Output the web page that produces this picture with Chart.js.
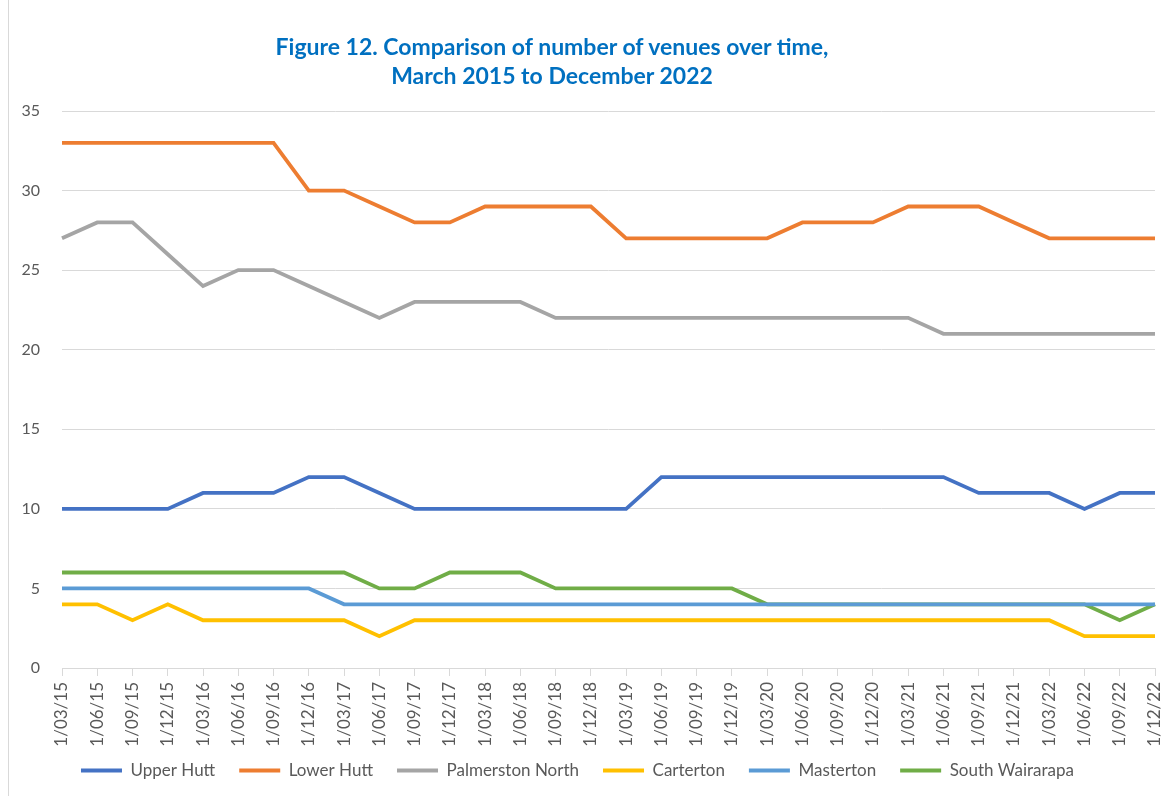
<!DOCTYPE html>
<html>
<head>
<meta charset="utf-8">
<script src="https://cdn.jsdelivr.net/npm/chart.js@4.4.0/dist/chart.umd.min.js"></script>
<style>
  html, body { margin: 0; padding: 0; background: #fff; }
  #wrap { position: relative; width: 1170px; height: 796px; }
  #frame { position: absolute; left: 8px; top: 0; width: 1px; height: 796px; background: #d9d9d9; }
  #title {
    position: absolute; left: 202px; width: 700px; top: 32px;
    text-align: center; color: #0070C0;
    font: bold 23px Lato, "Open Sans", sans-serif; line-height: 29px;
  }
</style>
</head>
<body>
<div id="wrap">
  <div id="frame"></div>
  <div id="title">Figure 12. Comparison of number of venues over time,<br>March 2015 to December 2022</div>
  <canvas id="chart" width="1170" height="796"></canvas>
</div>
<script>
// Quarterly dates, 1 March 2015 to 1 December 2022
const quarterLabels = [
  '1/03/15', '1/06/15', '1/09/15', '1/12/15',
  '1/03/16', '1/06/16', '1/09/16', '1/12/16',
  '1/03/17', '1/06/17', '1/09/17', '1/12/17',
  '1/03/18', '1/06/18', '1/09/18', '1/12/18',
  '1/03/19', '1/06/19', '1/09/19', '1/12/19',
  '1/03/20', '1/06/20', '1/09/20', '1/12/20',
  '1/03/21', '1/06/21', '1/09/21', '1/12/21',
  '1/03/22', '1/06/22', '1/09/22', '1/12/22'
];

const upperHutt = [10, 10, 10, 10, 11, 11, 11, 12, 12, 11, 10, 10, 10, 10, 10, 10,
                   10, 12, 12, 12, 12, 12, 12, 12, 12, 12, 11, 11, 11, 10, 11, 11];
const lowerHutt = [33, 33, 33, 33, 33, 33, 33, 30, 30, 29, 28, 28, 29, 29, 29, 29,
                   27, 27, 27, 27, 27, 28, 28, 28, 29, 29, 29, 28, 27, 27, 27, 27];
const palmerstonNorth = [27, 28, 28, 26, 24, 25, 25, 24, 23, 22, 23, 23, 23, 23, 22, 22,
                         22, 22, 22, 22, 22, 22, 22, 22, 22, 21, 21, 21, 21, 21, 21, 21];
const carterton = [4, 4, 3, 4, 3, 3, 3, 3, 3, 2, 3, 3, 3, 3, 3, 3,
                   3, 3, 3, 3, 3, 3, 3, 3, 3, 3, 3, 3, 3, 2, 2, 2];
const masterton = [5, 5, 5, 5, 5, 5, 5, 5, 4, 4, 4, 4, 4, 4, 4, 4,
                   4, 4, 4, 4, 4, 4, 4, 4, 4, 4, 4, 4, 4, 4, 4, 4];
const southWairarapa = [6, 6, 6, 6, 6, 6, 6, 6, 6, 5, 5, 6, 6, 6, 5, 5,
                        5, 5, 5, 5, 4, 4, 4, 4, 4, 4, 4, 4, 4, 4, 3, 4];

const seriesNames = ['Upper Hutt', 'Lower Hutt', 'Palmerston North', 'Carterton', 'Masterton', 'South Wairarapa'];
const seriesColors = ['#4472C4', '#ED7D31', '#A5A5A5', '#FFC000', '#5B9BD5', '#70AD47'];
const seriesData = [upperHutt, lowerHutt, palmerstonNorth, carterton, masterton, southWairarapa];

const FONT = 'Lato, "Open Sans", sans-serif';
const TEXT_GRAY = '#595959';
const GRID_GRAY = '#d9d9d9';

const toDataset = (name, i) => ({
  label: name,
  data: seriesData[i],
  borderColor: seriesColors[i],
  backgroundColor: seriesColors[i],
  borderWidth: 3.8,
  pointRadius: 0,
  tension: 0,
  fill: false,
  // Excel draws the first series on top
  order: i
});

new Chart(document.getElementById('chart'), {
  type: 'line',
  data: {
    labels: quarterLabels,
    datasets: seriesNames.map(toDataset)
  },
  options: {
    responsive: false,
    animation: false,
    layout: { padding: { top: 111, right: 15, left: 0, bottom: 7 } },
    plugins: {
      title: { display: false },
      tooltip: { enabled: false },
      legend: {
        position: 'bottom',
        labels: {
          boxWidth: 41,
          boxHeight: 4,
          padding: 24,
          color: TEXT_GRAY,
          font: { family: FONT, size: 17 },
          generateLabels: (chart) => {
            const items = Chart.defaults.plugins.legend.labels.generateLabels(chart);
            return items.map((item) => Object.assign(item, { lineWidth: 0 }));
          }
        }
      }
    },
    scales: {
      x: {
        type: 'category',
        offset: false,
        grid: {
          display: true,
          drawOnChartArea: false,
          drawTicks: true,
          tickLength: 8,
          color: GRID_GRAY
        },
        border: { display: true, color: GRID_GRAY },
        ticks: {
          autoSkip: false,
          minRotation: 90,
          maxRotation: 90,
          padding: 6,
          color: TEXT_GRAY,
          font: { family: FONT, size: 17 }
        },
        afterFit: (scale) => {
          scale.height = 70;
          scale.paddingLeft = 0;
          scale.paddingRight = 0;
          // let the long rotated labels run past the axis box instead of being clipped
          scale._computeLabelArea = () => undefined;
        }
      },
      y: {
        min: 0,
        max: 35,
        grid: { color: GRID_GRAY, drawTicks: false },
        border: { display: false },
        ticks: {
          stepSize: 5,
          padding: 22,
          color: TEXT_GRAY,
          font: { family: FONT, size: 16 }
        },
        afterFit: (scale) => { scale.width = 62; }
      }
    }
  }
});
</script>
</body>
</html>
